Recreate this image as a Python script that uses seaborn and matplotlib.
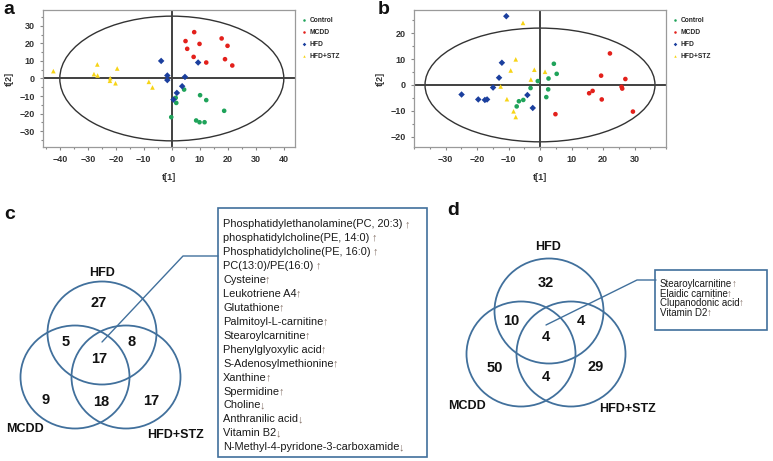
import numpy as np
import pandas as pd
import seaborn as sns
import matplotlib.pyplot as plt
from matplotlib.patches import Ellipse, Rectangle
from matplotlib.ticker import MultipleLocator

# ---------------- data: PCA score plots ----------------
a_control_t1 = [4.4, 1.4, 1.6, -0.2, 10.1, 12.3, 18.7, 8.7, 9.9, 11.7]
a_control_t2 = [-6.3, -11.0, -13.9, -22.0, -9.5, -12.3, -18.4, -23.9, -24.9, -24.9]
a_mcdd_t1 = [8.0, 4.9, 9.9, 5.5, 7.8, 12.3, 17.8, 19.9, 19.0, 21.6]
a_mcdd_t2 = [26.4, 21.3, 19.7, 16.9, 12.3, 9.1, 22.8, 18.6, 11.0, 7.4]
a_hfd_t1 = [-3.8, 9.4, -1.6, -1.6, 4.7, 3.7, 1.8, 0.6]
a_hfd_t2 = [10.0, 9.1, 1.7, -0.9, 0.9, -4.4, -8.2, -12.0]
a_stz_t1 = [-42.3, -26.6, -19.5, -27.8, -26.5, -22.0, -22.1, -20.1, -8.2, -6.9]
a_stz_t2 = [4.2, 8.0, 5.7, 2.5, 1.7, 0.2, -1.3, -2.7, -1.9, -5.1]

b_control_t1 = [4.4, 5.3, 2.7, -0.7, -3.0, 2.6, 2.0, -5.3, -6.7, -7.4]
b_control_t2 = [8.2, 4.3, 2.5, 1.5, -1.2, -1.7, -4.7, -5.8, -6.3, -8.3]
b_mcdd_t1 = [22.2, 19.4, 27.1, 25.9, 26.1, 16.7, 15.6, 19.6, 29.5, 4.9]
b_mcdd_t2 = [12.2, 3.6, 2.3, -0.7, -1.4, -2.3, -3.2, -5.6, -10.3, -11.3]
b_hfd_t1 = [-10.7, -12.1, -13.0, -14.9, -24.9, -19.6, -17.5, -16.8, -4.0, -2.3]
b_hfd_t2 = [26.6, 8.6, 2.8, -1.0, -3.7, -5.6, -5.8, -5.6, -3.9, -8.9]
b_stz_t1 = [-5.4, -7.7, -9.3, -12.5, -10.5, -8.4, -7.7, -2.9, -1.8, 1.6]
b_stz_t2 = [24.0, 9.9, 5.6, -0.6, -5.5, -10.2, -12.4, 2.1, 5.9, 5.1]

groups = ['Control', 'MCDD', 'HFD', 'HFD+STZ']

# ---------------- data: Venn diagrams ----------------
set_names = ['HFD', 'MCDD', 'HFD+STZ']
# region order: HFD only, HFD&MCDD, HFD&STZ, all three, MCDD only, MCDD&STZ, STZ only
venn_c_counts = [27, 5, 8, 17, 9, 18, 17]
venn_d_counts = [32, 10, 4, 4, 50, 4, 29]

shared_c = ['Phosphatidylethanolamine(PC, 20:3) ', 'phosphatidylcholine(PE, 14:0) ',
            'Phosphatidylcholine(PE, 16:0) ', 'PC(13:0)/PE(16:0) ', 'Cysteine',
            'Leukotriene A4', 'Glutathione', 'Palmitoyl-L-carnitine', 'Stearoylcarnitine',
            'Phenylglyoxylic acid', 'S-Adenosylmethionine', 'Xanthine', 'Spermidine',
            'Choline', 'Anthranilic acid', 'Vitamin B2', 'N-Methyl-4-pyridone-3-carboxamide']
shared_c_dir = ['↑'] * 13 + ['↓'] * 4
shared_d = ['Stearoylcarnitine', 'Elaidic carnitine', 'Clupanodonic acid', 'Vitamin D2']
shared_d_dir = ['↑'] * 4


def make_df(c1, c2, m1, m2, h1, h2, s1, s2):
    parts = []
    for g, x, y in zip(groups, [c1, m1, h1, s1], [c2, m2, h2, s2]):
        parts.append(pd.DataFrame({'t1': x, 't2': y, 'group': g}))
    return pd.concat(parts, ignore_index=True)


df_a = make_df(a_control_t1, a_control_t2, a_mcdd_t1, a_mcdd_t2,
               a_hfd_t1, a_hfd_t2, a_stz_t1, a_stz_t2)
df_b = make_df(b_control_t1, b_control_t2, b_mcdd_t1, b_mcdd_t2,
               b_hfd_t1, b_hfd_t2, b_stz_t1, b_stz_t2)

sns.set_style("white")
plt.rcParams['font.family'] = ['Liberation Sans', 'DejaVu Sans']

palette = {'Control': '#1fa35a', 'MCDD': '#e3201b', 'HFD': '#1b3f9e', 'HFD+STZ': '#f7d417'}
markers = {'Control': 'o', 'MCDD': 'o', 'HFD': 'D', 'HFD+STZ': '^'}

W, H = 773, 461
fig = plt.figure(figsize=(W / 100, H / 100), dpi=100)


def px_axes(l, t, r, b):
    return fig.add_axes([l / W, 1 - b / H, (r - l) / W, (b - t) / H])


def score_plot(ax, df, xlim, ylim, ell_w, ell_h, xticks, yticks):
    ax.add_patch(Ellipse((0, 0), ell_w, ell_h, fill=False, ec='#333333', lw=1.0, zorder=1))
    ax.axhline(0, color='#404040', lw=1.4, zorder=1)
    ax.axvline(0, color='#404040', lw=1.4, zorder=1)
    sns.scatterplot(data=df, x='t1', y='t2', hue='group', style='group',
                    palette=palette, markers=markers, s=11, linewidth=0,
                    ax=ax, zorder=3)
    ax.set_xlim(xlim)
    ax.set_ylim(ylim)
    ax.set_xticks(xticks)
    ax.set_yticks(yticks)
    ax.xaxis.set_minor_locator(MultipleLocator(5))
    ax.yaxis.set_minor_locator(MultipleLocator(5))
    ax.tick_params(which='both', direction='out', color='#888888', length=2, width=0.8,
                   bottom=True, left=True, labelsize=6.5, labelcolor='#333333', pad=4)
    ax.tick_params(which='minor', length=1.5)
    for lab in ax.get_xticklabels() + ax.get_yticklabels():
        lab.set_fontweight('bold')
    for sp in ax.spines.values():
        sp.set_color('#9a9a9a')
        sp.set_linewidth(0.9)
    ax.set_xlabel('t[1]', fontsize=6.5, fontweight='bold', color='#333333', labelpad=6)
    ax.set_ylabel('t[2]', fontsize=6.5, fontweight='bold', color='#333333', labelpad=4)
    handles, labels = ax.get_legend_handles_labels()
    ax.legend(handles, labels, loc='upper left', bbox_to_anchor=(1.015, 0.97),
              frameon=False, handlelength=0.6, handletextpad=0.5,
              labelspacing=0.75, borderpad=0, markerscale=0.55,
              prop={'weight': 'bold', 'size': 4.8})


ax_a = px_axes(43, 10, 295, 147)
score_plot(ax_a, df_a, (-46, 44), (-39, 39), 80, 71,
           range(-40, 41, 10), range(-30, 31, 10))
ax_b = px_axes(414, 10, 666, 147)
score_plot(ax_b, df_b, (-40, 40), (-24, 29), 73, 44,
           range(-30, 31, 10), range(-20, 21, 10))

# ---------------- Venn panels, drawn in pixel coordinates ----------------
ax_v = fig.add_axes([0, 0, 1, 1])
ax_v.set_xlim(0, W)
ax_v.set_ylim(H, 0)
ax_v.axis('off')
ax_v.patch.set_alpha(0)

venn_blue = '#41709c'

layout_c = {
    'origin': (102, 333),
    'circles': [(0, 0), (-27, 44), (24, 44)],
    'rx': 54.5, 'ry': 51.5,
    'regions': [(-3, -30), (-36, 9), (30, 9), (-3, 26), (-56, 67), (-1, 69), (49, 68)],
    'names': [(0, -60), (-77, 96), (73, 102)],
    'line': [(0, 9), (81, -77), (116, -77)],
    'box': (218, 208, 427, 457),
    'text_xy': (223, 224), 'step': 13.96, 'fs': 7.9,
}
layout_d = {
    'origin': (549, 311),
    'circles': [(0, 0), (-28, 43), (22, 43)],
    'rx': 54.5, 'ry': 52.5,
    'regions': [(-3, -28.5), (-38, 10), (32, 10), (-3, 26), (-54, 56.5), (-3, 65.5), (47, 56)],
    'names': [(-1, -64), (-82, 95), (78, 98)],
    'line': [(-3, 14), (88, -31), (107, -31)],
    'box': (655, 270, 767, 330),
    'text_xy': (660, 284), 'step': 9.6, 'fs': 7.0,
}


def venn(lay, counts, items, dirs):
    ox, oy = lay['origin']
    for cx, cy in lay['circles']:
        ax_v.add_patch(Ellipse((ox + cx, oy + cy), 2 * lay['rx'], 2 * lay['ry'],
                               fill=False, ec=venn_blue, lw=1.3))
    for (dx, dy), n in zip(lay['regions'], counts):
        ax_v.text(ox + dx, oy + dy, str(n), ha='center', va='center',
                  fontsize=10.5, fontweight='bold', color='#111111')
    for (dx, dy), name in zip(lay['names'], set_names):
        ax_v.text(ox + dx, oy + dy, name, ha='center', va='center',
                  fontsize=9, fontweight='bold', color='#111111')
    lx = [ox + p[0] for p in lay['line']]
    ly = [oy + p[1] for p in lay['line']]
    ax_v.plot(lx, ly, color=venn_blue, lw=1.0)
    l, t, r, b = lay['box']
    ax_v.add_patch(Rectangle((l, t), r - l, b - t, fill=False, ec=venn_blue, lw=1.2))
    tx, ty = lay['text_xy']
    for i, (name, d) in enumerate(zip(items, dirs)):
        txt = ax_v.text(tx, ty + i * lay['step'], name, ha='left', va='center',
                        fontsize=lay['fs'], color='#1a1a1a')
        ax_v.annotate(d, xy=(1, 0), xycoords=txt, xytext=(-0.6, 0),
                      textcoords='offset points', ha='left', va='bottom',
                      fontsize=lay['fs'], color='#857268')


venn(layout_c, venn_c_counts, shared_c, shared_c_dir)
venn(layout_d, venn_d_counts, shared_d, shared_d_dir)

# panel letters
for s, x, y in [('a', 3, 14), ('b', 378, 14), ('c', 4, 219), ('d', 447, 215)]:
    ax_v.text(x, y, s, fontsize=14, fontweight='bold', color='#111111', ha='left', va='baseline')

fig.savefig('out.png', dpi=100)
plt.close(fig)
